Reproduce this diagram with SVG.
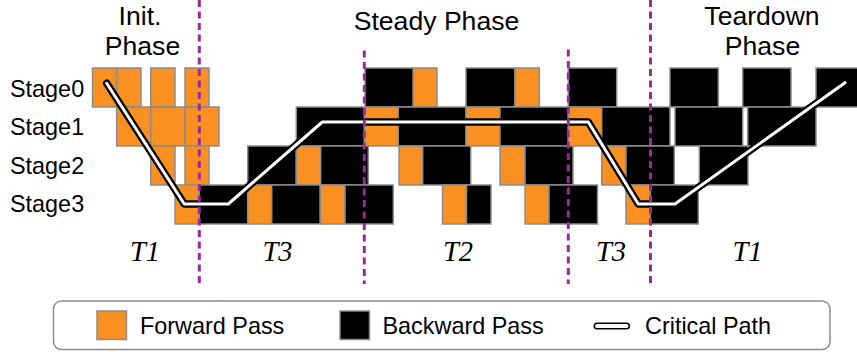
<svg xmlns="http://www.w3.org/2000/svg" width="857" height="352" viewBox="0 0 857 352">
  <defs>
    <style>
      .lbl { font-family: "Liberation Sans", Arial, Helvetica, sans-serif; font-size: 23.4px; fill: #000; }
      .hdr { font-family: "Liberation Sans", Arial, Helvetica, sans-serif; font-size: 26.6px; fill: #000; text-anchor: middle; }
      .tlab { font-family: "Liberation Serif", "Times New Roman", serif; font-style: italic; font-size: 28.5px; fill: #000; text-anchor: middle; }
      .f { fill: #f99021; stroke: #8c8c8c; stroke-width: 1.5; }
      .b { fill: #000; stroke: #8c8c8c; stroke-width: 1.5; }
      .div { stroke: #9a2a9c; stroke-width: 3; stroke-dasharray: 7 4.5; fill: none; }
      .cp-out { fill: none; stroke: #000; stroke-width: 7.5; stroke-linecap: round; stroke-linejoin: round; }
      .cp-in { fill: none; stroke: #fff; stroke-width: 3; stroke-linecap: round; stroke-linejoin: round; }
    </style>
  </defs>

  <rect width="857" height="352" fill="#fff"/>

  <!-- phase titles -->
  <g id="phase-titles">
    <text class="hdr" x="140" y="24.5">Init.</text>
    <text class="hdr" x="142.5" y="55">Phase</text>
    <text class="hdr" x="436.5" y="30">Steady Phase</text>
    <text class="hdr" x="762" y="24.5">Teardown</text>
    <text class="hdr" x="762.5" y="54.5">Phase</text>
  </g>

  <!-- stage labels -->
  <g id="stage-labels">
    <text class="lbl" x="10" y="96.5">Stage0</text>
    <text class="lbl" x="10" y="135">Stage1</text>
    <text class="lbl" x="10" y="173.5">Stage2</text>
    <text class="lbl" x="10" y="212">Stage3</text>
  </g>

  <!-- pipeline schedule: one row per stage -->
  <g id="stage0">
    <rect class="f" x="92.5" y="68" width="24.2" height="39"/>
    <rect class="f" x="116.7" y="68" width="24.3" height="39"/>
    <rect class="f" x="150.7" y="68" width="24.3" height="39"/>
    <rect class="f" x="185" y="68" width="24" height="39"/>
    <rect class="b" x="365" y="68" width="48.3" height="39"/>
    <rect class="f" x="413.3" y="68" width="23.7" height="39"/>
    <rect class="b" x="466" y="68" width="49" height="39"/>
    <rect class="f" x="515" y="68" width="24.3" height="39"/>
    <rect class="b" x="568.3" y="68" width="48.4" height="39"/>
    <rect class="b" x="670" y="68" width="48.3" height="39"/>
    <rect class="b" x="742.7" y="68" width="48.3" height="39"/>
    <rect class="b" x="816" y="68" width="54" height="39"/>
  </g>

  <g id="stage1">
    <rect class="f" x="116.7" y="107" width="34" height="39"/>
    <rect class="f" x="150.7" y="107" width="34.3" height="39"/>
    <rect class="f" x="185" y="107" width="34" height="39"/>
    <rect class="b" x="296.3" y="107" width="68.2" height="39"/>
    <rect class="f" x="364.5" y="107" width="33.8" height="39"/>
    <rect class="b" x="398.3" y="107" width="67.7" height="39"/>
    <rect class="f" x="466" y="107" width="34" height="39"/>
    <rect class="b" x="500" y="107" width="68.3" height="39"/>
    <rect class="f" x="568.3" y="107" width="33.4" height="39"/>
    <rect class="b" x="601.7" y="107" width="68.3" height="39"/>
    <rect class="b" x="675" y="107" width="67.7" height="39"/>
    <rect class="b" x="747.7" y="107" width="68.3" height="39"/>
  </g>

  <g id="stage2">
    <rect class="f" x="150.7" y="146" width="24.3" height="39"/>
    <rect class="f" x="185" y="146" width="24" height="39"/>
    <rect class="b" x="247.7" y="146" width="48.6" height="39"/>
    <rect class="f" x="296.3" y="146" width="24.4" height="39"/>
    <rect class="b" x="320.7" y="146" width="47.6" height="39"/>
    <rect class="f" x="399" y="146" width="23.7" height="39"/>
    <rect class="b" x="422.7" y="146" width="48" height="39"/>
    <rect class="f" x="500" y="146" width="25" height="39"/>
    <rect class="b" x="525" y="146" width="48" height="39"/>
    <rect class="f" x="601.7" y="146" width="24.3" height="39"/>
    <rect class="b" x="626" y="146" width="48.3" height="39"/>
    <rect class="b" x="699.3" y="146" width="48.7" height="39"/>
  </g>

  <g id="stage3">
    <rect class="f" x="175" y="185" width="24.3" height="39"/>
    <rect class="b" x="199.3" y="185" width="48.4" height="39"/>
    <rect class="f" x="247.7" y="185" width="24" height="39"/>
    <rect class="b" x="271.7" y="185" width="48.6" height="39"/>
    <rect class="f" x="320.3" y="185" width="24.7" height="39"/>
    <rect class="b" x="345" y="185" width="48.3" height="39"/>
    <rect class="f" x="442.5" y="185" width="24" height="39"/>
    <rect class="b" x="466.5" y="185" width="24.5" height="39"/>
    <rect class="f" x="525" y="185" width="24" height="39"/>
    <rect class="b" x="549" y="185" width="48.5" height="39"/>
    <rect class="f" x="626" y="185" width="24.3" height="39"/>
    <rect class="b" x="650.3" y="185" width="48" height="39"/>
  </g>

  <!-- critical path through the schedule -->
  <g id="connectors">
    <path id="critical-path-outline" class="cp-out" d="M106.7,83.3 L184.3,204 L228.3,204 L322.3,122 L588.3,122 L638.3,204 L675,204 L845,82.7"/>
    <path id="critical-path" class="cp-in" d="M106.7,83.3 L184.3,204 L228.3,204 L322.3,122 L588.3,122 L638.3,204 L675,204 L845,82.7"/>
  </g>

  <!-- phase dividers -->
  <g id="dividers">
    <line class="div" x1="199.3" y1="0" x2="199.3" y2="284"/>
    <line class="div" x1="364.3" y1="47" x2="364.3" y2="284" stroke-dashoffset="8"/>
    <line class="div" x1="568.3" y1="46" x2="568.3" y2="284" stroke-dashoffset="8"/>
    <line class="div" x1="650.5" y1="0" x2="650.5" y2="284"/>
  </g>

  <!-- interval labels -->
  <g id="interval-labels">
    <text class="tlab" x="145" y="261">T1</text>
    <text class="tlab" x="277.5" y="261">T3</text>
    <text class="tlab" x="458" y="261">T2</text>
    <text class="tlab" x="611" y="261">T3</text>
    <text class="tlab" x="747.5" y="261">T1</text>
  </g>

  <!-- legend -->
  <g id="legend">
    <rect x="53.5" y="301" width="776.5" height="48.5" rx="8" ry="8" fill="#fff" stroke="#8c8c8c" stroke-width="1.5"/>
    <rect class="f" x="97" y="311" width="29.5" height="28.5"/>
    <text class="lbl" x="140" y="334">Forward Pass</text>
    <rect class="b" x="340" y="311" width="29.5" height="28.5"/>
    <text class="lbl" x="382.5" y="334">Backward Pass</text>
    <line class="cp-out" x1="597" y1="326" x2="626.5" y2="326" style="stroke-width:7"/>
    <line class="cp-in" x1="597" y1="326" x2="626.5" y2="326" style="stroke-width:4"/>
    <text class="lbl" x="645" y="334">Critical Path</text>
  </g>
</svg>
